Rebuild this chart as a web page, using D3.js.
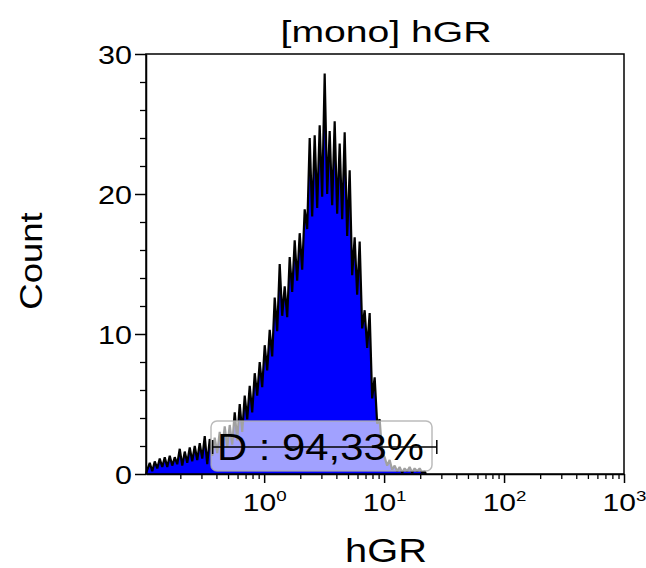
<!DOCTYPE html>
<html>
<head>
<meta charset="utf-8">
<script src="https://cdn.jsdelivr.net/npm/d3@7"></script>
<style>
  body { margin: 0; background: #fff; }
  text { font-family: "Liberation Sans", Arial, sans-serif; fill: #000; }
</style>
</head>
<body>
<div id="container"></div>
<script>
const width = 646, height = 568;

// histogram: log-spaced bins, 48 per decade, starting at 10^-0.985
const binStartLog = -0.985;
const binsPerDecade = 48;
const counts = [
  0.3, 0.8, 0.2, 0.9,   0.4, 1.1, 0.5, 1.2,   0.5, 1.3, 0.6, 1.2,
  0.7, 1.8, 0.6, 1.6,   0.8, 1.9, 0.9, 2.0,   1.0, 2.2, 1.1, 2.7,
  0.7, 2.5, 1.3, 2.6,   1.5, 3.0, 1.7, 3.4,   1.9, 3.5, 2.1, 4.4,
  2.4, 5.0, 3.0, 5.6,   3.9, 6.3, 4.4, 7.2,   5.6, 8.0, 6.2, 9.2,
  7.4, 10.3, 8.4, 12.6, 10.2, 15.0, 11.3, 13.4, 11.2, 15.5, 13.0, 16.7,
  13.8, 17.2, 14.6, 18.9, 17.5, 24.0, 18.4, 24.2, 19.0, 24.9, 19.8, 28.6,
  20.0, 24.5, 19.2, 25.2, 18.6, 23.6, 18.2, 24.4, 17.0, 21.7, 14.2, 16.9,
  12.8, 16.6, 10.4, 11.7, 9.0, 11.5, 5.4, 6.9,  3.6, 3.9, 1.5, 1.2,
  0.6, 1.0, 0.3, 0.6,   0.2, 0.5, 0.1, 0.4,   0.2, 0.5, 0.1, 0.4,
  0.2, 0.4, 0.1, 0.2
];

const title = "[mono] hGR";
const xLabel = "hGR";
const yLabel = "Count";
const yTicks = [0, 10, 20, 30];
const yMinorTicks = [2, 4, 6, 8, 12, 14, 16, 18, 22, 24, 26, 28];
const xTicks = [1, 10, 100, 1000];
const xTickExp = ["0", "1", "2", "3"];
const xMinorTicks = [0.2, 0.3, 0.4, 0.5, 0.6, 0.7, 0.8, 0.9,
  2, 3, 4, 5, 6, 7, 8, 9, 20, 30, 40, 50, 60, 70, 80, 90,
  200, 300, 400, 500, 600, 700, 800, 900];

// gate "D"
const gateName = "D";
const gatePct = "94,33%";
const gateRange = [0.372, 27.5];
const gateLevel = 1.93;

const svg = d3.select("#container").append("svg")
  .attr("width", width).attr("height", height);

const x = d3.scaleLog().domain([0.1035, 1000]).range([146, 624]);
const y = d3.scaleLinear().domain([0, 30]).range([474, 54]);

const pts = counts.map((c, i) => [Math.pow(10, binStartLog + (i + 0.5) / binsPerDecade), c]);
const first = Math.pow(10, binStartLog);
const last = Math.pow(10, binStartLog + counts.length / binsPerDecade);
const pathPts = [[first, 0], ...pts, [last, 0]];

svg.append("path")
  .datum(pathPts)
  .attr("d", d3.area().x(d => x(d[0])).y0(y(0)).y1(d => y(d[1])))
  .attr("fill", "#0000ff");

svg.append("path")
  .datum(pathPts)
  .attr("d", d3.line().x(d => x(d[0])).y(d => y(d[1])))
  .attr("fill", "none")
  .attr("stroke", "#000")
  .attr("stroke-width", 2.2)
  .attr("stroke-linejoin", "bevel");

// frame
svg.append("rect")
  .attr("x", 146).attr("y", 54)
  .attr("width", 478).attr("height", 420)
  .attr("fill", "none").attr("stroke", "#000").attr("stroke-width", 1.5);

// y axis
const yAx = svg.append("g").attr("transform", "translate(146,0)")
  .call(d3.axisLeft(y).tickValues(yTicks).tickSize(11).tickPadding(0).tickSizeOuter(0));
yAx.select(".domain").attr("stroke", "#000").attr("stroke-width", 1.5);
yAx.selectAll(".tick line").attr("stroke", "#000").attr("stroke-width", 1.5);
yAx.selectAll(".tick text")
  .attr("fill", "#222")
  .style("font-size", "25px")
  .attr("x", -14 / 1.22)
  .attr("dy", "0.36em")
  .attr("transform", "scale(1.22,1)");

svg.append("g").attr("transform", "translate(146,0)")
  .call(d3.axisLeft(y).tickValues(yMinorTicks).tickSize(6).tickFormat("").tickSizeOuter(0))
  .call(g => g.select(".domain").remove())
  .selectAll("line").attr("stroke", "#000").attr("stroke-width", 1.3);

// x axis
const xAx = svg.append("g").attr("transform", "translate(0,474)")
  .call(d3.axisBottom(x).tickValues(xTicks).tickSize(9).tickFormat("").tickSizeOuter(0));
xAx.select(".domain").attr("stroke", "#000").attr("stroke-width", 1.5);
xAx.selectAll(".tick line").attr("stroke", "#000").attr("stroke-width", 1.5);
xAx.selectAll(".tick").each(function(d, i) {
  const t = d3.select(this).append("text")
    .attr("y", 37)
    .attr("text-anchor", "middle")
    .attr("fill", "#222")
    .attr("transform", "scale(1.25,1)")
    .style("font-size", "24px");
  t.append("tspan").text("10");
  t.append("tspan").attr("dy", -10).style("font-size", "15px").text(xTickExp[i]);
});

svg.append("g").attr("transform", "translate(0,474)")
  .call(d3.axisBottom(x).tickValues(xMinorTicks).tickSize(5).tickFormat("").tickSizeOuter(0))
  .call(g => g.select(".domain").remove())
  .selectAll("line").attr("stroke", "#000").attr("stroke-width", 1.3);

// gate label box
svg.append("rect")
  .attr("x", 211).attr("y", 421)
  .attr("width", 221).attr("height", 50)
  .attr("rx", 6)
  .attr("fill", "#fff").attr("fill-opacity", 0.63)
  .attr("stroke", "#aaa").attr("stroke-opacity", 0.8).attr("stroke-width", 1.5);

svg.append("text")
  .attr("transform", "translate(217,460) scale(1.13,1)")
  .style("font-size", "37px")
  .text(`${gateName} : ${gatePct}`);

// gate bar
const gy = y(gateLevel);
svg.append("line")
  .attr("x1", x(gateRange[0])).attr("x2", x(gateRange[1]))
  .attr("y1", gy).attr("y2", gy)
  .attr("stroke", "#000").attr("stroke-width", 1.5);
gateRange.forEach(v => {
  svg.append("line")
    .attr("x1", x(v)).attr("x2", x(v))
    .attr("y1", gy - 7).attr("y2", gy + 7)
    .attr("stroke", "#000").attr("stroke-width", 1.5);
});

// title and axis labels
svg.append("text")
  .attr("transform", "translate(386,42) scale(1.35,1)")
  .attr("text-anchor", "middle")
  .style("font-size", "29px")
  .text(title);

svg.append("text")
  .attr("transform", "translate(386,562) scale(1.17,1)")
  .attr("text-anchor", "middle")
  .style("font-size", "34px")
  .text(xLabel);

svg.append("text")
  .attr("transform", "translate(42,261) rotate(-90) scale(1.14,1)")
  .attr("text-anchor", "middle")
  .style("font-size", "32px")
  .text(yLabel);
</script>
</body>
</html>
